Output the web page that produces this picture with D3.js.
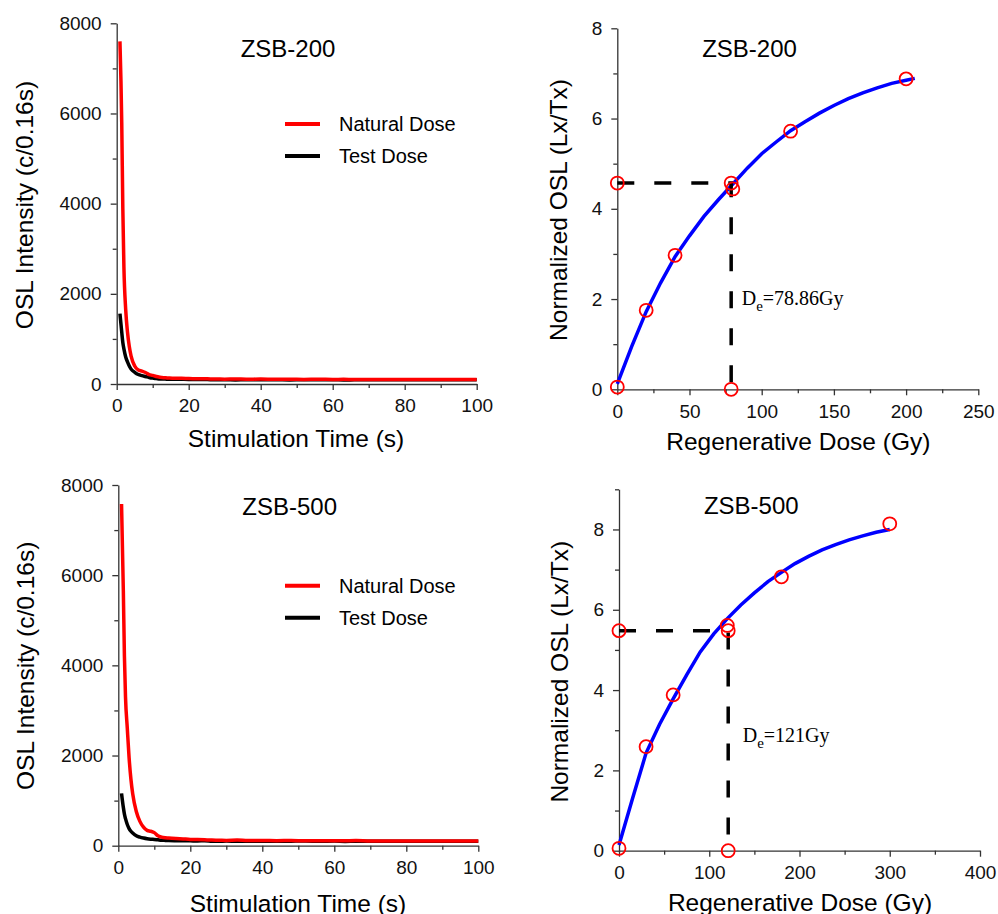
<!DOCTYPE html>
<html>
<head>
<meta charset="utf-8">
<script src="https://cdn.jsdelivr.net/npm/d3@7"></script>
<style>
body { margin: 0; background: #fff; }
svg { font-family: "Liberation Sans", Arial, sans-serif; }
.axis path, .axis line { stroke: #333; stroke-width: 1.3; }
.axis text { font-size: 19px; fill: #111; font-family: "Liberation Sans", Arial, sans-serif; }
</style>
</head>
<body>
<svg id="fig" width="998" height="914"></svg>
<script>
// decay curves (stimulation time in s, counts per 0.16 s)
var decayTime = [0.9, 1.4, 1.7, 2.0, 2.5, 3.0, 3.5, 4.0, 5.0, 6.0, 7.0, 8.0, 9.0, 10, 11, 12, 13, 14, 16, 18, 20, 22, 24, 26, 28, 30, 33, 36, 40, 44, 48, 52, 56, 60, 63, 66, 70, 75, 80, 85, 90, 95, 100];

var natural200 = [7600, 5800, 3900, 2600, 1650, 1150, 830, 620, 400, 310, 285, 255, 210, 190, 165, 150, 140, 135, 125, 130, 120, 115, 118, 112, 110, 108, 112, 105, 110, 104, 108, 102, 106, 100, 104, 98, 102, 100, 101, 100, 101, 100, 100];
var test200 = [1560, 1150, 920, 780, 600, 490, 400, 330, 260, 210, 185, 165, 145, 130, 120, 110, 112, 105, 108, 104, 100, 98, 102, 95, 92, 96, 90, 94, 92, 96, 90, 94, 92, 95, 88, 92, 95, 94, 95, 94, 95, 94, 95];

var natural500 = [7580, 5650, 4200, 3300, 2600, 1950, 1480, 1150, 760, 540, 410, 340, 320, 290, 220, 190, 175, 170, 160, 150, 140, 135, 130, 125, 122, 118, 125, 115, 118, 112, 115, 110, 112, 108, 110, 115, 105, 106, 105, 105, 105, 105, 105];
var test500 = [1160, 850, 700, 600, 470, 380, 320, 280, 220, 190, 170, 155, 145, 138, 130, 122, 118, 115, 112, 110, 108, 105, 110, 100, 98, 102, 96, 100, 98, 96, 100, 104, 98, 102, 95, 100, 100, 100, 100, 100, 100, 100, 100];

var decayXTicks = [0, 20, 40, 60, 80, 100];
var decayXMinor = [10, 30, 50, 70, 90];
var decayYTicks = [0, 2000, 4000, 6000, 8000];
var decayYMinor = [1000, 3000, 5000, 7000];

// growth curves
var regenDose200 = [0, 20, 40, 80, 120, 200];
var regenLxTx200 = [0.05, 1.75, 2.97, 4.44, 5.72, 6.88];
var fitDose200 = [0, 10, 20, 30, 40, 50, 60, 70, 80, 90, 100, 110, 120, 130, 140, 150, 160, 170, 180, 190, 200, 206];
var fitLxTx200 = [0.12, 0.95, 1.72, 2.36, 2.94, 3.40, 3.83, 4.20, 4.55, 4.90, 5.22, 5.48, 5.73, 5.93, 6.12, 6.29, 6.44, 6.57, 6.68, 6.78, 6.85, 6.89];
var naturalLn200 = 4.57;
var de200 = 78.86;

var regenDose500 = [0, 30, 60, 120, 180, 300];
var regenLxTx500 = [0.06, 2.59, 3.88, 5.61, 6.82, 8.14];
var fitDose500 = [0, 15, 30, 45, 60, 75, 90, 105, 120, 135, 150, 165, 180, 195, 210, 225, 240, 255, 270, 285, 300];
var fitLxTx500 = [0.14, 1.30, 2.43, 3.15, 3.78, 4.38, 4.95, 5.40, 5.78, 6.12, 6.42, 6.70, 6.93, 7.15, 7.33, 7.49, 7.62, 7.74, 7.84, 7.93, 8.0];
var naturalLn500 = 5.48;
var de500 = 121;

var svg = d3.select("#fig");

// draws one axis with major labelled ticks and short minor ticks
function addAxes(p, x, y, xt, xm, yt, ym) {
    svg.append("g").attr("class", "axis")
        .attr("transform", `translate(0,${p.bottom})`)
        .call(d3.axisBottom(x).tickValues(xm).tickSize(4).tickFormat(""))
        .select(".domain").remove();
    svg.append("g").attr("class", "axis")
        .attr("transform", `translate(${p.left},0)`)
        .call(d3.axisLeft(y).tickValues(ym).tickSize(4).tickFormat(""))
        .select(".domain").remove();
    svg.append("g").attr("class", "axis")
        .attr("transform", `translate(0,${p.bottom})`)
        .call(d3.axisBottom(x).tickValues(xt).tickSize(6).tickSizeOuter(0).tickPadding(9).tickFormat(d3.format("d")));
    svg.append("g").attr("class", "axis")
        .attr("transform", `translate(${p.left},0)`)
        .call(d3.axisLeft(y).tickValues(yt).tickSize(6).tickSizeOuter(0).tickPadding(9).tickFormat(d3.format("d")));
}

function addTitles(p) {
    svg.append("text")
        .attr("x", p.titleX).attr("y", p.titleY)
        .attr("text-anchor", "middle")
        .style("font-size", "24px")
        .text(p.title);
    svg.append("text")
        .attr("transform", `translate(${p.yLabelX},${p.yLabelY}) rotate(-90)`)
        .attr("text-anchor", "middle")
        .style("font-size", "24.5px")
        .text(p.yLabel);
    svg.append("text")
        .attr("x", p.xLabelX).attr("y", p.xLabelY)
        .attr("text-anchor", "middle")
        .style("font-size", "24.5px")
        .text(p.xLabel);
}

function drawDecay(p, nat, tst) {
    var x = d3.scaleLinear().domain([0, 100]).range([p.left, p.right]);
    var y = d3.scaleLinear().domain([0, 8000]).range([p.bottom, p.top]);

    addAxes(p, x, y, decayXTicks, decayXMinor, decayYTicks, decayYMinor);

    var line = d3.line()
        .x((d, i) => x(decayTime[i]))
        .y(d => y(d))
        .curve(d3.curveMonotoneX);

    svg.append("path").datum(tst)
        .attr("d", line)
        .attr("fill", "none").attr("stroke", "#000").attr("stroke-width", 3.5);
    svg.append("path").datum(nat)
        .attr("d", line)
        .attr("fill", "none").attr("stroke", "#ff0000").attr("stroke-width", 3.5);

    // legend
    var items = [["Natural Dose", "#ff0000"], ["Test Dose", "#000"]];
    items.forEach((it, i) => {
        var ly = p.legendY + i * 32;
        svg.append("line")
            .attr("x1", 285).attr("x2", 320).attr("y1", ly).attr("y2", ly)
            .attr("stroke", it[1]).attr("stroke-width", 4);
        svg.append("text")
            .attr("x", 339).attr("y", ly + 7)
            .style("font-size", "20px")
            .text(it[0]);
    });

    addTitles(p);
}

function drawGrowth(p, rd, rl, fd, fl, ln, de, deText) {
    var x = d3.scaleLinear().domain([0, p.xMax]).range([p.left, p.right]);
    var y = d3.scaleLinear().domain([0, p.yMax]).range([p.bottom, p.top]);

    addAxes(p, x, y, p.xTicks, p.xMinor, p.yTicks, p.yMinor);

    var line = d3.line()
        .x((d, i) => x(fd[i]))
        .y(d => y(d));

    svg.append("path").datum(fl)
        .attr("d", line)
        .attr("fill", "none").attr("stroke", "#0000ff").attr("stroke-width", 3.5);

    // natural signal projected onto the curve
    var dash = [[0, ln], [de, ln], [de, 0]];
    svg.append("path").datum(dash)
        .attr("d", d3.line().x(d => x(d[0])).y(d => y(d[1])))
        .attr("fill", "none").attr("stroke", "#000").attr("stroke-width", 3.5)
        .attr("stroke-dasharray", "17,20");

    var pts = rd.map((d, i) => [d, rl[i]]).concat(dash);
    svg.selectAll(null).data(pts).enter()
        .append("circle")
        .attr("cx", d => x(d[0]))
        .attr("cy", d => y(d[1]))
        .attr("r", 6.5)
        .attr("fill", "none")
        .attr("stroke", "#ff0000")
        .attr("stroke-width", 1.8);

    var t = svg.append("text")
        .attr("x", p.deX).attr("y", p.deY)
        .style("font-family", "'Liberation Serif', 'Times New Roman', serif")
        .style("font-size", "20px");
    t.append("tspan").text("D");
    t.append("tspan").attr("dy", 6).style("font-size", "15px").text("e");
    t.append("tspan").attr("dy", -6).text("=" + deText);

    addTitles(p);
}

drawDecay({
    left: 116.7, right: 476.7, top: 23.3, bottom: 384,
    legendY: 124,
    title: "ZSB-200", titleX: 288, titleY: 56.7,
    yLabel: "OSL Intensity (c/0.16s)", yLabelX: 33, yLabelY: 205,
    xLabel: "Stimulation Time (s)", xLabelX: 296, xLabelY: 447.3
}, natural200, test200);

drawDecay({
    left: 118.3, right: 478.3, top: 485, bottom: 845.7,
    legendY: 585.7,
    title: "ZSB-500", titleX: 289.7, titleY: 515,
    yLabel: "OSL Intensity (c/0.16s)", yLabelX: 34, yLabelY: 665.8,
    xLabel: "Stimulation Time (s)", xLabelX: 298, xLabelY: 911.7
}, natural500, test500);

drawGrowth({
    left: 617.3, right: 978.3, top: 28.3, bottom: 389.3,
    xMax: 250, yMax: 8,
    xTicks: [0, 50, 100, 150, 200, 250], xMinor: [25, 75, 125, 175, 225],
    yTicks: [0, 2, 4, 6, 8], yMinor: [1, 3, 5, 7],
    deX: 741.7, deY: 305,
    title: "ZSB-200", titleX: 749.5, titleY: 56.7,
    yLabel: "Normalized OSL (Lx/Tx)", yLabelX: 567, yLabelY: 210,
    xLabel: "Regenerative Dose (Gy)", xLabelX: 798.3, xLabelY: 450
}, regenDose200, regenLxTx200, fitDose200, fitLxTx200, naturalLn200, de200, "78.86Gy");

drawGrowth({
    left: 619, right: 980, top: 489.3, bottom: 850.7,
    xMax: 400, yMax: 9,
    xTicks: [0, 100, 200, 300, 400], xMinor: [50, 150, 250, 350],
    yTicks: [0, 2, 4, 6, 8], yMinor: [1, 3, 5, 7, 9],
    deX: 742.7, deY: 741.7,
    title: "ZSB-500", titleX: 751.3, titleY: 514,
    yLabel: "Normalized OSL (Lx/Tx)", yLabelX: 568, yLabelY: 671.7,
    xLabel: "Regenerative Dose (Gy)", xLabelX: 800, xLabelY: 910.7
}, regenDose500, regenLxTx500, fitDose500, fitLxTx500, naturalLn500, de500, "121Gy");
</script>
</body>
</html>
